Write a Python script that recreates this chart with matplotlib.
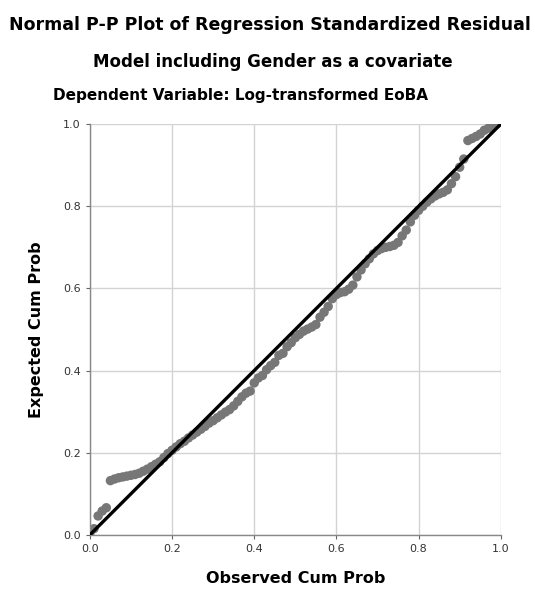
import matplotlib.pyplot as plt

# Observed cumulative probability (x) and expected cumulative probability (y)
observed_cum_prob = [
    0.00, 0.01, 0.02, 0.03, 0.04, 0.05, 0.06, 0.07, 0.08, 0.09,
    0.10, 0.11, 0.12, 0.13, 0.14, 0.15, 0.16, 0.17, 0.18, 0.19,
    0.20, 0.21, 0.22, 0.23, 0.24, 0.25, 0.26, 0.27, 0.28, 0.29,
    0.30, 0.31, 0.32, 0.33, 0.34, 0.35, 0.36, 0.37, 0.38, 0.39,
    0.40, 0.41, 0.42, 0.43, 0.44, 0.45, 0.46, 0.47, 0.48, 0.49,
    0.50, 0.51, 0.52, 0.53, 0.54, 0.55, 0.56, 0.57, 0.58, 0.59,
    0.60, 0.61, 0.62, 0.63, 0.64, 0.65, 0.66, 0.67, 0.68, 0.69,
    0.70, 0.71, 0.72, 0.73, 0.74, 0.75, 0.76, 0.77, 0.78, 0.79,
    0.80, 0.81, 0.82, 0.83, 0.84, 0.85, 0.86, 0.87, 0.88, 0.89,
    0.90, 0.91, 0.92, 0.93, 0.94, 0.95, 0.96, 0.97, 0.98, 0.99,
]
expected_cum_prob = [
    0.004, 0.015, 0.046, 0.058, 0.066, 0.132, 0.136, 0.139, 0.141, 0.143,
    0.145, 0.147, 0.150, 0.155, 0.160, 0.166, 0.172, 0.178, 0.188, 0.198,
    0.206, 0.214, 0.222, 0.228, 0.236, 0.243, 0.250, 0.257, 0.264, 0.272,
    0.278, 0.285, 0.292, 0.299, 0.305, 0.314, 0.325, 0.336, 0.345, 0.350,
    0.370, 0.382, 0.388, 0.402, 0.412, 0.420, 0.437, 0.442, 0.458, 0.468,
    0.480, 0.488, 0.496, 0.501, 0.506, 0.512, 0.530, 0.542, 0.556, 0.575,
    0.585, 0.590, 0.592, 0.598, 0.608, 0.628, 0.645, 0.660, 0.672, 0.684,
    0.692, 0.697, 0.700, 0.702, 0.705, 0.712, 0.728, 0.742, 0.762, 0.778,
    0.790, 0.800, 0.810, 0.818, 0.825, 0.830, 0.834, 0.840, 0.855, 0.872,
    0.895, 0.915, 0.960, 0.965, 0.970, 0.976, 0.985, 0.990, 0.995, 1.000,
]
tick_values = [0.0, 0.2, 0.4, 0.6, 0.8, 1.0]
tick_labels = ['0.0', '0.2', '0.4', '0.6', '0.8', '1.0']

titles = [
    'Normal P-P Plot of Regression Standardized Residual',
    'Model including Gender as a covariate',
    'Dependent Variable: Log-transformed EoBA',
]

plt.rcParams['font.family'] = ['DejaVu Sans']

fig = plt.figure(figsize=(5.35, 5.91), dpi=100)
ax = fig.add_axes([0.168, 0.095, 0.768, 0.695])

ax.scatter(observed_cum_prob, expected_cum_prob, s=46, color='#777777',
           edgecolors='none', zorder=2)
ax.plot([0, 1], [0, 1], color='black', linewidth=2.4, zorder=3)

ax.set_xlim(0, 1)
ax.set_ylim(0, 1)
ax.set_xticks(tick_values)
ax.set_xticklabels(tick_labels)
ax.set_yticks(tick_values)
ax.set_yticklabels(tick_labels)
ax.tick_params(labelsize=8, colors='#666666', length=3, width=0.8,
               labelcolor='#333333')
ax.grid(True, color='#d3d3d3', linewidth=1.0, zorder=0)
ax.set_axisbelow(True)

for side in ['top', 'right']:
    ax.spines[side].set_visible(False)
for side in ['left', 'bottom']:
    ax.spines[side].set_color('#888888')
    ax.spines[side].set_linewidth(1.0)

ax.set_xlabel('Observed Cum Prob', fontsize=11.5, fontweight='bold', labelpad=12)
ax.set_ylabel('Expected Cum Prob', fontsize=11.5, fontweight='bold', labelpad=14)

# title lines: (x centre, y centre, size)
title_x = [0.505, 0.51, 0.45]
title_y = [0.957, 0.895, 0.838]
title_size = [12.5, 12, 11]
for text, x, y, size in zip(titles, title_x, title_y, title_size):
    fig.text(x, y, text, ha='center', va='center', fontsize=size,
             fontweight='bold')

fig.savefig('out.png', dpi=100)
